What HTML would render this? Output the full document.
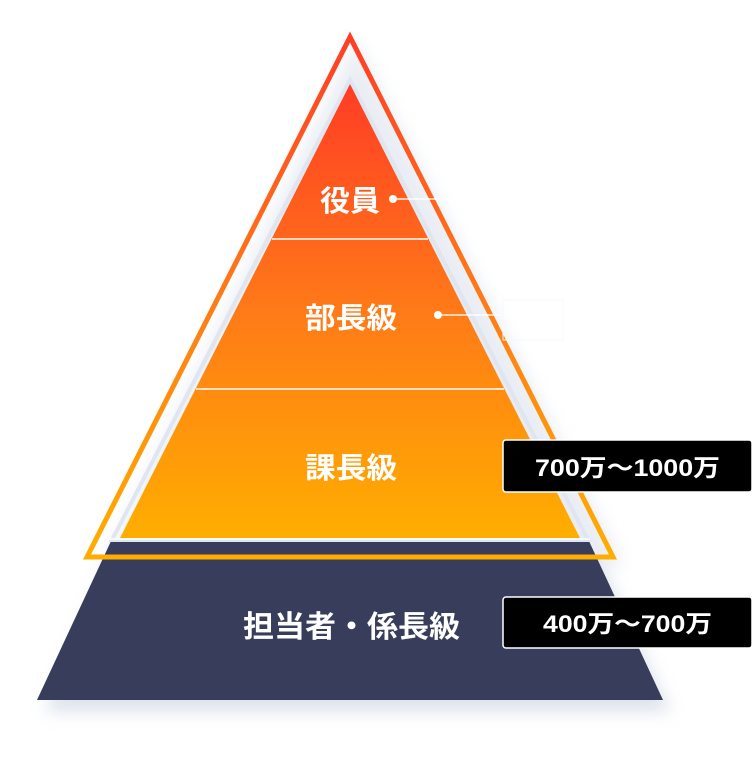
<!DOCTYPE html>
<html><head><meta charset="utf-8"><style>
html,body{margin:0;padding:0;background:#fff;}
body{width:754px;height:757px;overflow:hidden;}
svg text{font-family:"Liberation Sans","Noto Sans CJK JP",sans-serif;font-weight:bold;fill:#fff;}
</style></head><body>
<svg width="754" height="757" viewBox="0 0 754 757" xmlns="http://www.w3.org/2000/svg">
<defs>
<linearGradient id="g" x1="0" y1="84" x2="0" y2="538" gradientUnits="userSpaceOnUse">
<stop offset="0" stop-color="#ff3d25"/><stop offset="0.5" stop-color="#ff7a18"/><stop offset="1" stop-color="#ffae00"/></linearGradient>
<linearGradient id="g2" x1="0" y1="32" x2="0" y2="560" gradientUnits="userSpaceOnUse">
<stop offset="0" stop-color="#ff3d25"/><stop offset="0.5" stop-color="#ff7a18"/><stop offset="1" stop-color="#ffae00"/></linearGradient>
<filter id="sh" x="-20%" y="-20%" width="140%" height="140%"><feGaussianBlur stdDeviation="8"/></filter>
</defs>
<polygon points="45,712 671,712 600,560 110,560" fill="#c8d2e0" opacity="0.6" filter="url(#sh)"/>
<polygon points="356,40 624,566 104,566" fill="#d5dde8" opacity="0.5" filter="url(#sh)"/>
<polygon points="112,539 588,539 663,700 37,700" fill="#373d5a"/>
<polygon points="350,37 613,557 87,557" fill="none" stroke="url(#g2)" stroke-width="5" stroke-linejoin="miter"/>
<polygon points="350,80 588,540 112,540" fill="none" stroke="#dfe6ef" stroke-width="4"/>
<polygon points="350,84 580,538 120,538" fill="url(#g)"/>
<line x1="272" y1="239" x2="428" y2="239" stroke="#fff" stroke-width="1.5"/>
<line x1="196" y1="389" x2="504" y2="389" stroke="#fff" stroke-width="1.5"/>
<line x1="110" y1="539" x2="590" y2="539" stroke="#fff" stroke-width="1.5"/>
<line x1="393" y1="199" x2="480" y2="199" stroke="#fff" stroke-width="1.5" opacity="0.9"/>
<circle cx="393" cy="199" r="4" fill="#fff"/>
<line x1="438" y1="315" x2="505" y2="315" stroke="#fff" stroke-width="1.5" opacity="0.9"/>
<circle cx="438" cy="315" r="4" fill="#fff"/>
<rect x="503" y="300" width="60" height="40" fill="none" stroke="#f7f8fb" stroke-width="1"/>
<text x="320" y="211" font-size="29" textLength="60" lengthAdjust="spacingAndGlyphs">役員</text>
<text x="305" y="328" font-size="29" textLength="92" lengthAdjust="spacingAndGlyphs">部長級</text>
<text x="305" y="478" font-size="29" textLength="92" lengthAdjust="spacingAndGlyphs">課長級</text>
<text x="243" y="637" font-size="30" textLength="217" lengthAdjust="spacingAndGlyphs">担当者・係長級</text>
<rect x="503" y="440" width="249" height="52" rx="3" fill="#000" stroke="#fff" stroke-width="1.5"/>
<text x="535" y="476" font-size="24" textLength="185" lengthAdjust="spacingAndGlyphs">700万～1000万</text>
<rect x="503" y="597" width="249" height="51" rx="3" fill="#000" stroke="#fff" stroke-width="1.5"/>
<text x="543" y="632" font-size="24" textLength="169" lengthAdjust="spacingAndGlyphs">400万～700万</text>
</svg>
</body></html>
